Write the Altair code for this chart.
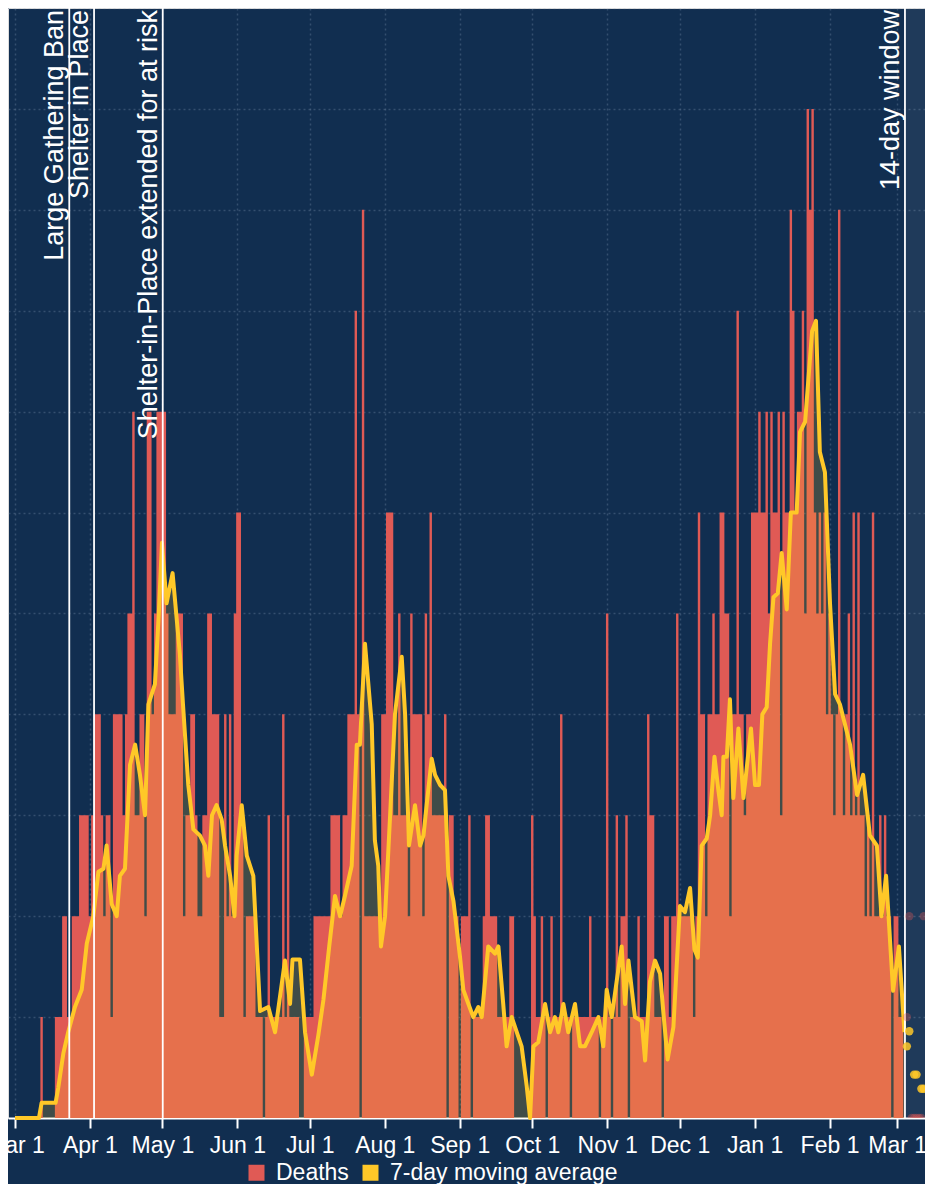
import altair as alt
import pandas as pd

# ---------------- data ----------------
START = "2020-03-01"
# daily deaths (bars), one value per day from 2020-03-01
deaths = [
    0, 0, 0, 0, 0, 0, 0, 0, 0, 0,   # d0
    0, 1, 0, 0, 0, 0, 0, 1, 1, 1,   # d10
    2, 2, 1, 1, 2, 2, 2, 3, 3, 3,   # d20
    3, 2, 3, 4, 4, 4, 3, 2, 3, 3,   # d30
    1, 4, 4, 4, 4, 3, 4, 5, 5, 7,   # d40
    3, 3, 4, 4, 2, 7, 7, 4, 5, 7,   # d50
    7, 7, 7, 5, 4, 4, 4, 5, 5, 5,   # d60
    2, 3, 3, 4, 4, 3, 2, 2, 3, 3,   # d70
    5, 5, 4, 4, 4, 1, 1, 4, 2, 4,   # d80
    2, 5, 6, 6, 3, 1, 2, 2, 2, 2,   # d90
    1, 1, 1, 0, 1, 3, 1, 1, 1, 1,   # d100
    1, 4, 1, 3, 1, 1, 1, 1, 0, 0,   # d110
    1, 1, 1, 1, 2, 2, 2, 2, 2, 2,   # d120
    2, 3, 3, 3, 3, 2, 3, 3, 4, 4,   # d130
    4, 8, 4, 0, 9, 2, 2, 2, 2, 2,   # d140
    2, 2, 4, 4, 6, 6, 6, 3, 3, 5,   # d150
    3, 3, 3, 2, 5, 4, 4, 4, 4, 2,   # d160
    5, 4, 6, 3, 3, 3, 3, 3, 4, 0,   # d170
    3, 3, 2, 2, 0, 2, 2, 2, 3, 0,   # d180
    1, 1, 1, 1, 2, 3, 3, 2, 2, 2,   # d190
    1, 1, 1, 1, 1, 2, 2, 0, 0, 0,   # d200
    0, 0, 0, 0, 3, 2, 1, 1, 2, 1,   # d210
    0, 1, 2, 1, 1, 1, 4, 1, 1, 1,   # d220
    0, 1, 1, 1, 1, 1, 1, 1, 2, 1,   # d230
    1, 1, 0, 1, 1, 5, 1, 0, 1, 3,   # d240
    1, 2, 2, 3, 0, 1, 1, 1, 2, 1,   # d250
    1, 1, 4, 3, 3, 1, 1, 1, 0, 2,   # d260
    2, 1, 2, 2, 5, 2, 2, 2, 2, 2,   # d270
    2, 1, 2, 6, 4, 4, 2, 4, 4, 5,   # d280
    4, 4, 6, 6, 5, 5, 2, 4, 4, 8,   # d290
    4, 4, 3, 4, 4, 6, 6, 6, 7, 6,   # d300
    6, 7, 5, 7, 6, 6, 7, 3, 7, 6,   # d310
    6, 9, 8, 6, 7, 7, 8, 5, 10, 9,  # d320
    10, 6, 5, 6, 5, 6, 4, 5, 4, 3,  # d330
    4, 9, 4, 3, 4, 5, 3, 6, 3, 6,   # d340
    3, 3, 2, 3, 2, 6, 2, 2, 3, 2,   # d350
    3, 2, 2, 0, 2, 2, 1, 1, 0,      # d360
]

# 7-day moving average line, read as (day offset from START, value)
avg_day = [
    0, 9.9, 11, 16.8, 17.9, 20, 22, 24.8, 27.6, 29.7, 32.4, 34.5, 36.6, 37.9,
    40, 42.1, 43.4, 45.5, 47.6, 49.7, 51.7, 53.8, 55.2, 57.9, 59.5, 60.8,
    62.7, 65.2, 68.2, 69.5, 71.7, 73.8, 76.5, 78.6, 80, 81.5, 83.4, 85.5,
    86.9, 89, 90.8, 91.7, 93.8, 95.9, 98.6, 101.4, 104.8, 107.6, 111.7,
    113.8, 114.8, 117.9, 120, 122.8, 125.5, 127.6, 130, 132.4, 134.5, 136.5,
    139.3, 141.4, 142.7, 144.8, 147.6, 148.9, 150.3, 151.4, 153.1, 155.2,
    157.2, 160, 161.4, 163, 165.5, 167.6, 169, 170.3, 172.4, 173.8, 175.9,
    177.9, 179.3, 181.4, 184.1, 185.5, 187.6, 189.6, 191.7, 193.1, 195.8,
    198.6, 200, 202, 203.4, 205.5, 207.6, 209.6, 211.7, 213.1, 214.5, 216.5,
    219.3, 221.4, 223.4, 224.8, 226.9, 228.9, 231.7, 233.8, 235.8, 238.6,
    241.4, 243.4, 244.8, 246.9, 248.9, 251, 252.4, 253.8, 256.5, 259.3,
    260.7, 262.7, 264.8, 266.9, 268.2, 270, 272.4, 275.1, 277.2, 279.3,
    281.1, 282.5, 284.1, 286.2, 287.6, 289.4, 291, 292.4, 293.1, 294.5,
    295.8, 297.2, 299.3, 301.4, 302.7, 304.5, 306.2, 307.8, 309.2, 311,
    312.4, 313.8, 315.6, 317.2, 319.3, 321, 323.4, 324.8, 326.9, 329.8,
    331.4, 333, 335.1, 337.2, 339.3, 341.3, 343.4, 345.5, 348.4, 350.9,
    353.7, 356.6, 358.5, 360.4, 363.3, 365.7, 368,
]
avg_val = [
    0, 0, 0.15, 0.15, 0.3, 0.64, 0.85, 1.1, 1.27, 1.73, 2.0, 2.44, 2.47, 2.7,
    2.12, 2.0, 2.4, 2.47, 3.5, 3.7, 3.4, 3.0, 4.1, 4.3, 5.0, 5.7,
    5.1, 5.4, 4.6, 4.1, 3.3, 2.86, 2.8, 2.7, 2.4, 3.0, 3.1, 2.96,
    2.7, 2.4, 2.0, 2.6, 3.1, 2.6, 2.4, 1.06, 1.1, 0.85, 1.56,
    1.13, 1.57, 1.57, 0.85, 0.43, 0.82, 1.17, 1.7, 2.2, 2.0, 2.2,
    2.5, 3.7, 3.7, 4.7, 3.9, 2.75, 2.5, 1.7, 2.0, 3.0,
    4.0, 4.57, 4.0, 2.7, 3.1, 2.7, 2.8, 3.1, 3.56, 3.4, 3.3,
    3.25, 2.4, 2.15, 1.6, 1.27, 1.13, 1.0, 1.1, 1.0, 1.7,
    1.63, 1.7, 1.13, 0.71, 1.0, 0.85, 0.71, 0.32, 0, 0.71, 0.75,
    1.13, 0.85, 1.0, 0.85, 1.13, 0.85, 1.13, 0.71, 0.71, 0.85,
    1.0, 0.71, 1.27, 1.0, 1.35, 1.7, 1.13, 1.56, 1.0, 0.96,
    0.57, 1.35, 1.56, 1.43, 1.06, 0.58, 0.9, 2.1, 2.04, 2.28,
    1.67, 1.59, 2.7, 2.77, 3.0, 3.58, 3.25, 3.0, 3.58, 3.58,
    4.15, 3.17, 3.86, 3.17, 3.46, 3.86, 3.3, 3.3, 4.0, 4.07,
    4.7, 5.16, 5.2, 5.6, 5.04, 6.0, 6.0, 6.8, 6.9, 7.8,
    7.9, 6.6, 6.4, 5.1, 4.2, 4.1, 3.9, 3.7, 3.2, 3.4,
    2.8, 2.7, 2.0, 2.4, 1.26, 1.7, 0.85,
]

event_labels = ["Large Gathering Ban", "Shelter in Place",
                "Shelter-in-Place extended for at risk", "14-day window"]
event_dates = ["2020-03-23T11:00:00Z", "2020-04-02T17:00:00Z",
               "2020-05-01T03:00:00Z", "2021-03-04T05:00:00Z"]

month_ticks = ["2020-03-01", "2020-04-01", "2020-05-01", "2020-06-01",
               "2020-07-01", "2020-08-01", "2020-09-01", "2020-10-01",
               "2020-11-01", "2020-12-01", "2021-01-01", "2021-02-01",
               "2021-03-01"]

# faint markers after the 14-day window
post_death_dates = ["2021-03-05", "2021-03-06", "2021-03-07", "2021-03-08",
                    "2021-03-09", "2021-03-10", "2021-03-11", "2021-03-12"]
post_deaths = [1, 2, 0, 0, 0, 0, 0, 2]
post_avg_dates = ["2021-03-05", "2021-03-06", "2021-03-08", "2021-03-09",
                  "2021-03-11", "2021-03-12"]
post_avg = [0.71, 0.86, 0.43, 0.43, 0.29, 0.29]

series_names = ["Deaths", "7-day moving average"]

# ---------------- styling ----------------
W, H = 917, 1110
BG = "#112e50"
RED = "#e05a55"
YEL = "#ffc828"
FONT = "Liberation Sans"
X_START = "2020-02-27T02:30:00Z"
X_END = "2021-03-12T12:00:00Z"
GRID = dict(gridDash=[2, 3], gridColor="#9fb3cc", gridOpacity=0.25,
            gridWidth=1.5)


def ms(s):
    return int(pd.Timestamp(s).value // 10**6)


xscale = alt.Scale(type="utc", domain=[ms(X_START), ms(X_END)])
yscale = alt.Scale(domain=[0, 11], nice=False, zero=True)

xaxis = alt.Axis(values=[ms(t) for t in month_ticks],
                 labelExpr="utcFormat(datum.value, '%b %-d')",
                 title=None, labelFontSize=23,
                 labelColor="white", labelFont=FONT, tickColor="white",
                 tickSize=10, tickWidth=2, domainColor="white",
                 domainWidth=2, labelPadding=6, grid=True,
                 labelFlush=False, labelOverlap=False, **GRID)
yaxis = alt.Axis(values=list(range(0, 12)), labels=False, ticks=False,
                 domain=False, title=None, grid=True, **GRID)

dates = pd.date_range(START, periods=len(deaths), freq="D").strftime("%Y-%m-%d")
df = pd.DataFrame({"date": list(dates), "deaths": deaths})

t0 = pd.Timestamp(START, tz="UTC")
avg_df = pd.DataFrame({
    "date": [(t0 + pd.Timedelta(days=d)).strftime("%Y-%m-%dT%H:%M:%SZ")
             for d in avg_day],
    "avg7": avg_val,
})

ev = pd.DataFrame({"date": event_dates, "label": event_labels})
panel = pd.DataFrame({"date": [event_dates[-1]], "end": [X_END]})
post_d = pd.DataFrame({"date": post_death_dates, "v": post_deaths})
post_a = pd.DataFrame({"date": post_avg_dates, "v": post_avg})

panel_layer = alt.Chart(panel).mark_rect(color="white", opacity=0.06).encode(
    x=alt.X("date:T", scale=xscale, axis=xaxis),
    x2="end:T",
    y=alt.value(0), y2=alt.value(H),
)

# daily bars drawn as one seamless step shape: each day is a full-width
# column centred on its date
bars = alt.Chart(df).transform_calculate(
    series="'" + series_names[0] + "'",
).mark_area(interpolate="step", opacity=1).encode(
    x=alt.X("date:T", scale=xscale, axis=xaxis),
    y=alt.Y("deaths:Q", scale=yscale, axis=yaxis),
    color=alt.Color(
        "series:N",
        scale=alt.Scale(domain=series_names, range=[RED, YEL]),
        legend=alt.Legend(orient="none", legendX=237, legendY=1153,
                          direction="horizontal", title=None,
                          symbolType="square", symbolSize=256,
                          symbolStrokeWidth=0, symbolOpacity=1,
                          labelFontSize=23,
                          labelColor="white", labelFont=FONT,
                          labelLimit=0, labelOffset=8, columnPadding=10,
                          padding=0),
    ),
)

area = alt.Chart(avg_df).mark_area(color=YEL, opacity=0.2).encode(
    x=alt.X("date:T", scale=xscale, axis=xaxis),
    y=alt.Y("avg7:Q", scale=yscale, axis=yaxis),
)
line = alt.Chart(avg_df).mark_line(color=YEL, strokeWidth=4,
                                   strokeJoin="round").encode(
    x=alt.X("date:T", scale=xscale, axis=xaxis),
    y=alt.Y("avg7:Q", scale=yscale, axis=yaxis),
)

rules = alt.Chart(ev).mark_rule(color="white", strokeWidth=1.8).encode(
    x=alt.X("date:T", scale=xscale, axis=xaxis),
    y=alt.value(0), y2=alt.value(H),
)
texts = alt.Chart(ev).mark_text(angle=270, align="right", baseline="alphabetic",
                                dx=-2, dy=-6, fontSize=27, color="white",
                                font=FONT).encode(
    x=alt.X("date:T", scale=xscale, axis=xaxis),
    y=alt.value(0),
    text="label:N",
)

post_dots = alt.Chart(post_d).mark_circle(color=RED, opacity=0.35, size=70,
                                           clip=True).encode(
    x=alt.X("date:T", scale=xscale, axis=xaxis),
    y=alt.Y("v:Q", scale=yscale, axis=yaxis),
)
post_avg_dots = alt.Chart(post_a).mark_circle(color=YEL, opacity=0.85, size=70,
                                               clip=True).encode(
    x=alt.X("date:T", scale=xscale, axis=xaxis),
    y=alt.Y("v:Q", scale=yscale, axis=yaxis),
)

chart = alt.layer(
    panel_layer, bars, area, line, rules, texts, post_dots, post_avg_dots
).properties(
    width=W, height=H, background=BG,
    autosize=alt.AutoSizeParams(type="none"),
    padding={"left": 0, "right": 0, "top": 0, "bottom": 66},
).configure_view(stroke=None).configure(font=FONT)

chart.save("out.html", embed_options={"renderer": "svg", "actions": False})
